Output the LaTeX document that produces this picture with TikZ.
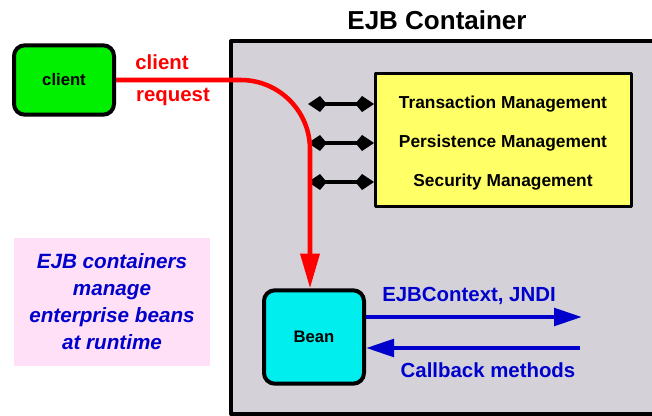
\documentclass[tikz,border=0pt]{standalone}
\usepackage{fontspec}
\setmainfont{Liberation Sans}
\usetikzlibrary{arrows.meta,positioning}
\definecolor{boxgray}{HTML}{D4D1D8}
\definecolor{clientgreen}{HTML}{00F000}
\definecolor{beancyan}{HTML}{00EEEE}
\definecolor{mgmtyellow}{HTML}{FFFF66}
\definecolor{notepink}{HTML}{FFE0F6}
\definecolor{ejbblue}{HTML}{0000CC}
\begin{document}
\begin{tikzpicture}[x=0.75pt, y=-0.75pt, font=\bfseries\fontsize{15.3}{18}\selectfont, line join=round, >=Stealth,
  box/.style={draw=black, line width=3pt, rounded corners=8pt, inner sep=0pt, font=\bfseries\fontsize{12.5}{15}\selectfont},
  reqline/.style={draw=red, line width=3.4pt, rounded corners=52pt, -{Triangle[length=26pt, width=14pt]}},
  mgmtarrow/.style={draw=black, line width=3pt, {Kite[length=14pt, width=12pt, inset=5pt]}-{Kite[length=14pt, width=12pt, inset=5pt]}},
  blueline/.style={draw=ejbblue, line width=3.3pt, -{Triangle[length=21pt, width=13pt]}},
  bluelabel/.style={text=ejbblue},
  mgmtlabel/.style={font=\bfseries\fontsize{13}{15}\selectfont}
  ]
	\useasboundingbox (0,0) rectangle (652,416);
	% container
	\draw[line width=3pt, fill=boxgray] (231,41) coordinate (cont-nw) rectangle (690,414);
	\node[font=\bfseries\fontsize{19.5}{23}\selectfont] (title) at (437,20) {EJB Container};
	
	\node[box, fill=clientgreen, minimum width=75pt, minimum height=52pt] (client) at (64,80) {client};
	\node[box, fill=beancyan, minimum width=75pt, minimum height=70pt] (bean) at (314,337) {Bean};
	\node[draw=black, line width=2.25pt, fill=mgmtyellow, minimum width=192pt, minimum height=100pt] (mgmt) at (503.5,140) {};
	\node[fill=notepink, minimum width=147pt, minimum height=96pt, align=center, text=ejbblue,
	  font=\bfseries\itshape\fontsize{15.5}{20.3}\selectfont] (note) at (112,302)
	  {EJB containers\\manage\\enterprise beans\\at runtime};
	
	% services
	\path
	(503,104) node[mgmtlabel] (tx) {Transaction Management}
	(503,143) node[mgmtlabel] (pers) {Persistence Management}
	(503,182) node[mgmtlabel] (sec) {Security Management}
	;
	\foreach \n/\y in {tx/104,pers/143,sec/182}
		\draw[mgmtarrow] (308,\y) coordinate (\n-l) -- (\n-l -| mgmt.west);
	
	% client request
	\coordinate (drop) at (310,0);
	\draw[reqline] (client.east) -| (drop |- bean.north);
	\node[text=red] (req1) at (162,62) {client};
	\node[text=red] (req2) at (173,97) {request};
	
	% bean services
	\coordinate (ctx-end) at (582,317);
	\coordinate (cb-start) at (580,348);
	\draw[blueline] (bean.east |- ctx-end) -- (ctx-end);
	\draw[blueline] (cb-start) -- (bean.east |- cb-start);
	\node[bluelabel] (ctx) at (469,296) {EJBContext, JNDI};
	\node[bluelabel] (cb) at (488,370) {Callback methods};
\end{tikzpicture}
\end{document}
